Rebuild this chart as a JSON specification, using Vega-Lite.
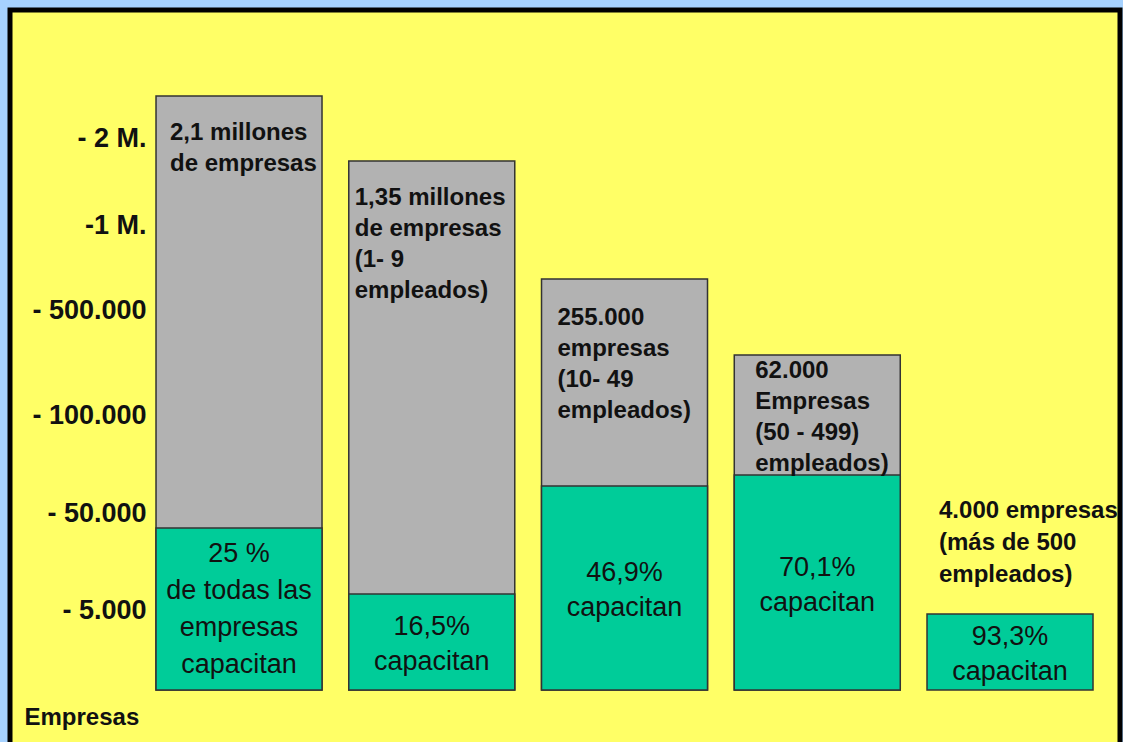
{
  "$schema": "https://vega.github.io/schema/vega-lite/v6.json",
  "width": 1110,
  "height": 735,
  "autosize": {"type": "none"},
  "padding": {"left": 10, "top": 10, "right": 3, "bottom": 0},
  "background": "#a6d2ff",
  "config": {
    "view": {"fill": "#ffff66", "stroke": "#000000", "strokeWidth": 5},
    "font": "Liberation Sans"
  },
  "data": {
    "values": [
      {"grupo": "Todas", "empresas": 2100000, "pct_capacitan": 25, "altura_total": 594, "altura_capacitan": 162,
       "etiqueta_total": ["2,1 millones", "de empresas"],
       "etiqueta_capacitan": ["25 %", "de todas las", "empresas", "capacitan"]},
      {"grupo": "1-9", "empresas": 1350000, "pct_capacitan": 16.5, "altura_total": 529, "altura_capacitan": 96,
       "etiqueta_total": ["1,35 millones", "de empresas", "(1- 9", " empleados)"],
       "etiqueta_capacitan": ["16,5%", "capacitan"]},
      {"grupo": "10-49", "empresas": 255000, "pct_capacitan": 46.9, "altura_total": 411, "altura_capacitan": 204,
       "etiqueta_total": ["255.000", "empresas", "(10- 49", "empleados)"],
       "etiqueta_capacitan": ["46,9%", "capacitan"]},
      {"grupo": "50-499", "empresas": 62000, "pct_capacitan": 70.1, "altura_total": 335, "altura_capacitan": 215,
       "etiqueta_total": ["62.000", "Empresas", "(50 - 499)", "empleados)"],
       "etiqueta_capacitan": ["70,1%", "capacitan"]},
      {"grupo": "500+", "empresas": 4000, "pct_capacitan": 93.3, "altura_total": null, "altura_capacitan": 76,
       "etiqueta_total": ["4.000 empresas", "(más de 500", "empleados)"],
       "etiqueta_capacitan": ["93,3%", "capacitan"]}
    ]
  },
  "encoding": {
    "x": {
      "field": "grupo", "type": "nominal", "sort": null, "axis": null,
      "scale": {"domain": ["Todas", "1-9", "10-49", "50-499", "500+"], "paddingInner": 0.1388, "paddingOuter": 0.4488, "align": 0.844}
    }
  },
  "layer": [
    {
      "transform": [{"filter": "datum.altura_total != null"}],
      "mark": {"type": "bar", "fill": "#b2b2b2", "stroke": "#333333", "strokeWidth": 1.5},
      "encoding": {
        "y": {
          "field": "altura_total", "type": "quantitative",
          "scale": {"domain": [-55, 680], "nice": false, "zero": false},
          "axis": {
            "values": [552, 465, 380, 275, 177, 80],
            "labelExpr": "datum.value == 552 ? '- 2 M.' : datum.value == 465 ? '-1 M.' : datum.value == 380 ? '- 500.000' : datum.value == 275 ? '- 100.000' : datum.value == 177 ? '- 50.000' : '- 5.000'",
            "offset": -136, "domain": false, "ticks": false, "grid": false,
            "labelFont": "Liberation Sans", "labelFontSize": 27, "labelFontWeight": "bold", "labelColor": "#111111",
            "labelPadding": 0, "labelAlign": "right", "labelOverlap": false, "labelBound": false, "labelFlush": false,
            "title": "Empresas", "titleAngle": 0, "titleX": -122, "titleY": 707, "titleAlign": "left", "titleBaseline": "middle",
            "titleFont": "Liberation Sans", "titleFontSize": 24, "titleFontWeight": "bold", "titleColor": "#111111"
          }
        },
        "y2": {"datum": 0}
      }
    },
    {
      "mark": {"type": "bar", "fill": "#00cc99", "stroke": "#333333", "strokeWidth": 1.5},
      "encoding": {
        "y": {"field": "altura_capacitan", "type": "quantitative", "scale": {"domain": [-55, 680], "nice": false, "zero": false}, "axis": null},
        "y2": {"datum": 0}
      }
    },
    {
      "transform": [{"filter": "datum.grupo == 'Todas'"}],
      "mark": {"type": "text", "align": "left", "baseline": "top", "dx": 14, "dy": 25, "fontSize": 24, "fontWeight": "bold", "lineHeight": 31, "color": "#111111"},
      "encoding": {
        "x": {"field": "grupo", "type": "nominal", "bandPosition": 0},
        "y": {"field": "altura_total", "type": "quantitative", "scale": {"domain": [-55, 680], "nice": false, "zero": false}, "axis": null},
        "text": {"field": "etiqueta_total"}
      }
    },
    {
      "transform": [{"filter": "datum.grupo == '1-9'"}],
      "mark": {"type": "text", "align": "left", "baseline": "top", "dx": 6, "dy": 25, "fontSize": 24, "fontWeight": "bold", "lineHeight": 31, "color": "#111111"},
      "encoding": {
        "x": {"field": "grupo", "type": "nominal", "bandPosition": 0},
        "y": {"field": "altura_total", "type": "quantitative", "scale": {"domain": [-55, 680], "nice": false, "zero": false}, "axis": null},
        "text": {"field": "etiqueta_total"}
      }
    },
    {
      "transform": [{"filter": "datum.grupo == '10-49'"}],
      "mark": {"type": "text", "align": "left", "baseline": "top", "dx": 16, "dy": 27, "fontSize": 24, "fontWeight": "bold", "lineHeight": 31, "color": "#111111"},
      "encoding": {
        "x": {"field": "grupo", "type": "nominal", "bandPosition": 0},
        "y": {"field": "altura_total", "type": "quantitative", "scale": {"domain": [-55, 680], "nice": false, "zero": false}, "axis": null},
        "text": {"field": "etiqueta_total"}
      }
    },
    {
      "transform": [{"filter": "datum.grupo == '50-499'"}],
      "mark": {"type": "text", "align": "left", "baseline": "top", "dx": 21, "dy": 4, "fontSize": 24, "fontWeight": "bold", "lineHeight": 31, "color": "#111111"},
      "encoding": {
        "x": {"field": "grupo", "type": "nominal", "bandPosition": 0},
        "y": {"field": "altura_total", "type": "quantitative", "scale": {"domain": [-55, 680], "nice": false, "zero": false}, "axis": null},
        "text": {"field": "etiqueta_total"}
      }
    },
    {
      "transform": [{"filter": "datum.grupo == '500+'"}],
      "mark": {"type": "text", "align": "left", "baseline": "top", "dx": 12, "dy": -115, "fontSize": 24, "fontWeight": "bold", "lineHeight": 32, "color": "#111111"},
      "encoding": {
        "x": {"field": "grupo", "type": "nominal", "bandPosition": 0},
        "y": {"field": "altura_capacitan", "type": "quantitative", "scale": {"domain": [-55, 680], "nice": false, "zero": false}, "axis": null},
        "text": {"field": "etiqueta_total"}
      }
    },
    {
      "transform": [{"filter": "datum.grupo == 'Todas'"}],
      "mark": {"type": "text", "align": "center", "baseline": "middle", "dy": -55, "fontSize": 27, "lineHeight": 37, "color": "#111111"},
      "encoding": {
        "y": {"field": "altura_capacitan", "type": "quantitative", "scale": {"domain": [-110, 1360], "nice": false, "zero": false}, "axis": null},
        "text": {"field": "etiqueta_capacitan"}
      }
    },
    {
      "transform": [{"filter": "datum.grupo != 'Todas'"}],
      "mark": {"type": "text", "align": "center", "baseline": "middle", "dy": -15, "fontSize": 27, "lineHeight": 35, "color": "#111111"},
      "encoding": {
        "y": {"field": "altura_capacitan", "type": "quantitative", "scale": {"domain": [-110, 1360], "nice": false, "zero": false}, "axis": null},
        "text": {"field": "etiqueta_capacitan"}
      }
    }
  ],
  "resolve": {"scale": {"y": "independent"}}
}
